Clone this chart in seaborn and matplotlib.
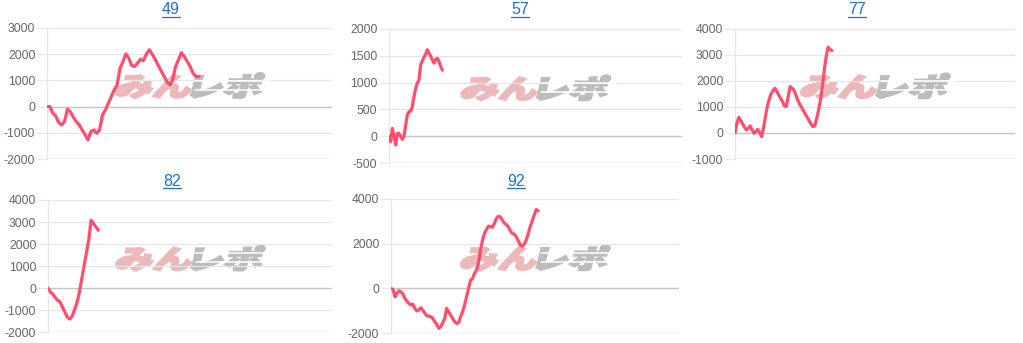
import numpy as np
import pandas as pd
import matplotlib
matplotlib.use("Agg")
import matplotlib.pyplot as plt
import seaborn as sns
from matplotlib.textpath import TextPath
from matplotlib.font_manager import FontProperties
from matplotlib.patches import PathPatch
from matplotlib.transforms import Affine2D
from matplotlib.lines import Line2D

# ---------------- data ----------------
titles = ["49", "57", "77", "82", "92"]

v49 = [0, 0, -250, -360, -610, -700, -570, -100, -200, -400, -570, -690, -890, -1060,
       -1270, -960, -890, -1020, -890, -320, -130, 130, 380, 640, 830, 1460, 1720, 2010,
       1850, 1570, 1530, 1660, 1810, 1750, 2000, 2170, 2000, 1810, 1590, 1380, 1170, 960,
       830, 1020, 1530, 1780, 2060, 1910, 1720, 1530, 1270, 1150, 1150]
v57 = [0, -100, 150, 0, -160, 55, 55, 5, -55, 0, 210, 400, 460, 470, 550, 740, 890, 990,
       1050, 1330, 1400, 1470, 1530, 1610, 1550, 1490, 1420, 1360, 1430, 1450, 1390, 1300, 1230]
v77 = [0, 370, 600, 475, 345, 220, 115, 180, 270, 115, -10, 50, 140, 15, -140, 180, 625,
       1010, 1290, 1500, 1625, 1715, 1590, 1460, 1330, 1200, 1040, 1010, 1390, 1780, 1715,
       1650, 1460, 1265, 1110, 985, 855, 730, 600, 475, 345, 245, 270, 560, 880, 1265, 1780,
       2420, 2930, 3290, 3210, 3160]
v82 = [0, -170, -270, -420, -545, -620, -845, -1075, -1300, -1400, -1300, -1000, -695, -240,
       365, 970, 1570, 2175, 3080, 2930, 2780, 2630]
v92 = [0, -45, -370, -220, -105, -150, -250, -445, -565, -670, -740, -700, -890, -995, -965,
       -860, -965, -1110, -1215, -1230, -1260, -1335, -1485, -1600, -1780, -1705, -1530, -1335,
       -890, -1040, -1190, -1335, -1485, -1560, -1530, -1260, -1040, -740, -370, 0, 370, 445,
       670, 815, 1145, 1710, 2150, 2450, 2630, 2780, 2750, 2720, 2900, 3120, 3220, 3190, 3045,
       2900, 2850, 2750, 2570, 2450, 2420, 2300, 2120, 1930, 1885, 1975, 2150, 2450, 2750,
       3015, 3265, 3520, 3460]
series = [v49, v57, v77, v82, v92]

yticks = [
    [-2000, -1000, 0, 1000, 2000, 3000],
    [-500, 0, 500, 1000, 1500, 2000],
    [-1000, 0, 1000, 2000, 3000, 4000],
    [-2000, -1000, 0, 1000, 2000, 3000, 4000],
    [-2000, 0, 2000, 4000],
]
watermark_left = "みん"
watermark_right = "レポ"

# ---------------- layout (pixels) ----------------
W, H = 1023, 343
DPI = 100
boxes = [
    (47, 332, 28, 159),
    (389, 682, 28.7, 163.3),
    (735, 1015, 28.7, 159),
    (48, 332, 200, 332.3),
    (391, 679, 198.7, 333.3),
]
end_frac = [0.533, 0.182, 0.346, 0.177, 0.511]
title_pos = [(171, 10), (520, 10), (857, 10), (172, 181), (516, 181)]

LINE = "#ff4d6d"
GRID = "#e6e6e6"
ZERO = "#c4c4c4"
TICKC = "#666666"
LINK = "#1a6fd6"
PINK = "#ecb9bb"
GRAYWM = "#bcbcbc"

sns.set_theme(style="white")
plt.rcParams["font.family"] = ["Liberation Sans", "DejaVu Sans"]

fig = plt.figure(figsize=(W / DPI, H / DPI), dpi=DPI)
fig.patch.set_facecolor("white")

wm_font = FontProperties(family="Noto Sans CJK JP", weight="black")
tp_a = TextPath((0, 0), watermark_left, size=100, prop=wm_font)
tp_b = TextPath((0, 0), watermark_right, size=100, prop=wm_font)
ea = tp_a.get_extents()
eb = tp_b.get_extents()
gap = 4
tot_w = ea.width + gap + eb.width
y0 = min(ea.y0, eb.y0)
y1 = max(ea.y1, eb.y1)
tot_h = y1 - y0
wm_w, wm_h = 145.0, 25.0
sx = wm_w / tot_w
sy = wm_h / tot_h

for i, (vals, (l, r, t, b)) in enumerate(zip(series, boxes)):
    ax = fig.add_axes([l / W, 1 - b / H, (r - l) / W, (b - t) / H])
    df = pd.DataFrame({"x": np.arange(len(vals)), "y": vals})
    sns.lineplot(data=df, x="x", y="y", ax=ax, color=LINE, linewidth=2.3,
                 solid_joinstyle="round", solid_capstyle="round", zorder=5)
    yt = yticks[i]
    ax.set_ylim(yt[0], yt[-1])
    ax.set_xlim(0, (len(vals) - 1) / end_frac[i])
    ax.set_yticks(yt)
    ax.set_yticklabels([str(v) for v in yt])
    ax.set_xticks([])
    ax.set_xlabel("")
    ax.set_ylabel("")
    for s in ["top", "right", "bottom"]:
        ax.spines[s].set_visible(False)
    ax.spines["left"].set_color(GRID)
    ax.spines["left"].set_linewidth(0.9)
    ax.tick_params(axis="y", length=7.2, width=0.9, color=GRID, pad=1.2,
                   labelsize=8.8, labelcolor=TICKC, left=True)
    ax.set_facecolor("white")

    # watermark (background image in the original) centred in the axes
    cx = (l + r) / 2.0
    cy = H - (t + (b - t) * 0.44)
    base = (Affine2D()
            .translate(-ea.x0 - tot_w / 2, -y0 - tot_h / 2)
            .scale(sx, sy)
            .skew_deg(14, 0)
            .translate(cx, cy))
    pa = PathPatch(tp_a, transform=base, facecolor=PINK, edgecolor=PINK,
                   linewidth=1.6, zorder=0.3, clip_on=False)
    tb = Affine2D().translate(ea.x1 + gap - eb.x0, 0) + base
    pb = PathPatch(tp_b, transform=tb, facecolor=GRAYWM, edgecolor=GRAYWM,
                   linewidth=1.6, zorder=0.3, clip_on=False)
    ax.add_artist(pa)
    ax.add_artist(pb)
    # speed-line gaps across the grey part
    gx0 = cx - wm_w / 2 + sx * (ea.width + gap) + 2
    gx1 = cx + wm_w / 2 + 8
    for fy in (-0.17, 0.2):
        yy = cy + fy * wm_h
        fig.add_artist(Line2D([gx0 / W, gx1 / W], [yy / H, yy / H],
                              transform=fig.transFigure, color="white", lw=1.1,
                              zorder=0.35))
    # grid lines drawn over the watermark
    for v in yt:
        if v == 0:
            ax.axhline(v, color=ZERO, lw=1.0, zorder=1)
        elif v == yt[0]:
            ax.axhline(v, color="#d0d0d0", lw=1.0, zorder=1)
        else:
            ax.axhline(v, color=GRID, lw=0.9, zorder=1)

# titles (blue underlined links)
title_texts = []
for (tx, ty), name in zip(title_pos, titles):
    txt = fig.text(tx / W, 1 - ty / H, name, ha="center", va="center",
                   fontsize=11.5, color=LINK)
    title_texts.append(txt)

fig.canvas.draw()
renderer = fig.canvas.get_renderer()
for txt in title_texts:
    bb = txt.get_window_extent(renderer)
    yline = bb.y0 + 1.0
    fig.add_artist(Line2D([bb.x0 / W, bb.x1 / W], [yline / H, yline / H],
                          transform=fig.transFigure, color=LINK, lw=0.9))

fig.savefig("out.png", dpi=DPI, facecolor="white")
